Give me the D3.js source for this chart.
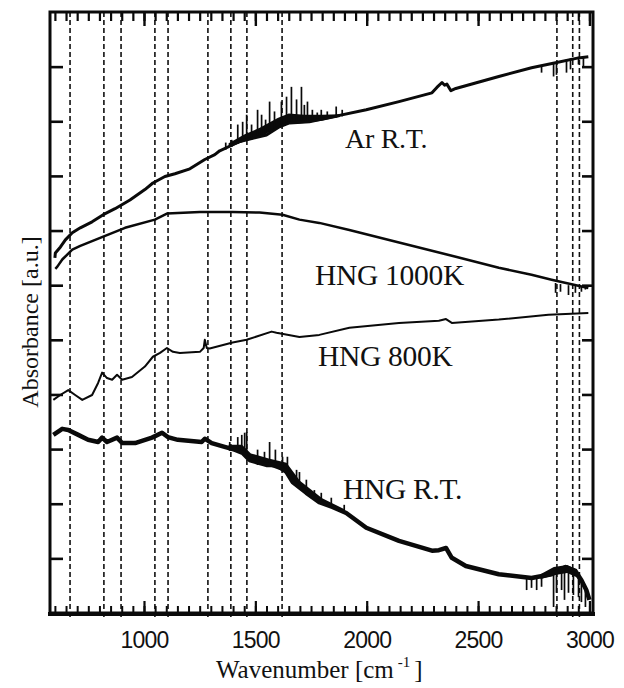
<!DOCTYPE html>
<html>
<head>
<meta charset="utf-8">
<script src="https://cdn.jsdelivr.net/npm/d3@7"></script>
<style>
  html, body { margin: 0; padding: 0; background: #fff; }
</style>
</head>
<body>
<script>
// wavenumber [cm-1], absorbance [a.u.]
const arRT = [[600, 6.50], [602, 6.59], [625, 6.70], [647, 6.83], [678, 6.96], [714, 7.05], [767, 7.16], [817, 7.29], [870, 7.40], [937, 7.56], [1004, 7.75], [1040, 7.87], [1094, 7.99], [1139, 8.04], [1206, 8.13], [1273, 8.30], [1318, 8.39], [1340, 8.46], [1430, 8.63], [1550, 8.75], [1608, 8.90], [1653, 8.97], [1743, 8.99], [1846, 9.08], [1998, 9.21], [2145, 9.36], [2293, 9.52], [2315, 9.62], [2338, 9.71], [2350, 9.66], [2360, 9.68], [2378, 9.56], [2400, 9.60], [2593, 9.82], [2740, 9.98], [2848, 10.07], [2951, 10.16], [2995, 10.18]];
const hng1000 = [[602, 6.30], [611, 6.34], [633, 6.47], [678, 6.65], [714, 6.72], [817, 6.89], [915, 7.05], [1049, 7.20], [1103, 7.31], [1152, 7.32], [1251, 7.34], [1398, 7.34], [1519, 7.33], [1622, 7.29], [1698, 7.20], [1787, 7.14], [1922, 7.01], [2145, 6.78], [2400, 6.52], [2593, 6.32], [2740, 6.19], [2830, 6.10], [2995, 5.95]];
const hng800 = [[593, 3.90], [624, 3.99], [660, 4.08], [691, 3.99], [723, 3.90], [767, 3.99], [794, 4.21], [812, 4.40], [834, 4.30], [857, 4.27], [879, 4.36], [902, 4.27], [946, 4.32], [1004, 4.51], [1040, 4.69], [1072, 4.76], [1103, 4.85], [1130, 4.78], [1161, 4.76], [1251, 4.78], [1268, 4.85], [1273, 5.00], [1282, 4.85], [1295, 4.84], [1398, 4.95], [1461, 5.00], [1573, 5.15], [1595, 5.13], [1698, 5.05], [1787, 5.09], [1922, 5.22], [2145, 5.31], [2324, 5.35], [2356, 5.38], [2382, 5.31], [2593, 5.37], [2816, 5.46], [2995, 5.49]];
const hngRT = [[593, 3.26], [633, 3.37], [660, 3.35], [705, 3.26], [749, 3.17], [794, 3.13], [812, 3.21], [834, 3.13], [879, 3.21], [902, 3.11], [960, 3.11], [1036, 3.21], [1081, 3.30], [1107, 3.22], [1152, 3.17], [1259, 3.13], [1273, 3.19], [1304, 3.11], [1362, 3.04], [1407, 2.99], [1443, 2.93], [1474, 2.80], [1550, 2.71], [1595, 2.71], [1640, 2.58], [1667, 2.40], [1729, 2.20], [1787, 2.03], [1846, 1.94], [1908, 1.83], [1998, 1.56], [2145, 1.32], [2293, 1.14], [2324, 1.15], [2356, 1.19], [2382, 1.01], [2445, 0.86], [2593, 0.71], [2740, 0.64], [2830, 0.71], [2893, 0.84], [2937, 0.77], [2964, 0.60], [2986, 0.42], [3000, 0.24]];

// noisy stretches: [wavenumber, low, high]
const arBand = [[1380, 8.52, 8.60], [1450, 8.63, 8.76], [1520, 8.71, 8.88], [1600, 8.88, 9.06], [1650, 8.95, 9.14], [1720, 8.97, 9.12], [1800, 9.01, 9.12], [1880, 9.08, 9.13]];
const rtBand = [[1380, 2.98, 3.08], [1440, 2.93, 3.08], [1480, 2.77, 2.92], [1560, 2.69, 2.83], [1640, 2.57, 2.75], [1700, 2.29, 2.42], [1800, 2.01, 2.10], [1900, 1.83, 1.90]];
const rtBandEnd = [[2780, 0.62, 0.71], [2840, 0.69, 0.84], [2900, 0.73, 0.88], [2940, 0.66, 0.80], [2970, 0.51, 0.60], [2995, 0.30, 0.38]];

// spikes: [wavenumber, from, to]
const arSpikes = [[1367, 8.48, 8.61], [1394, 8.53, 8.66], [1421, 8.59, 8.94], [1443, 8.63, 8.99], [1461, 8.64, 9.12], [1483, 8.66, 8.94], [1510, 8.70, 9.21], [1528, 8.72, 9.12], [1546, 8.74, 9.03], [1564, 8.77, 9.36], [1586, 8.83, 9.18], [1617, 8.92, 9.36], [1640, 8.96, 9.45], [1662, 8.97, 9.63], [1685, 8.97, 9.40], [1707, 8.97, 9.63], [1720, 8.97, 9.30], [1734, 8.97, 9.36], [1756, 8.99, 9.21], [1778, 9.01, 9.16], [1796, 9.03, 9.21], [1823, 9.05, 9.18], [1863, 9.07, 9.27], [1890, 9.09, 9.21],
  [2785, 10.02, 9.89], [2839, 10.07, 9.82], [2852, 10.08, 9.85], [2897, 10.13, 9.89], [2915, 10.15, 9.95], [2951, 10.18, 10.04], [2973, 10.19, 10.00]];
const hng1000Spikes = [[2848, 6.04, 5.86], [2870, 6.02, 5.88], [2906, 6.00, 5.82], [2937, 5.99, 5.86], [2964, 5.97, 5.88], [2982, 5.97, 5.92]];
const rtSpikes = [[1385, 2.97, 3.13], [1421, 2.95, 3.22], [1439, 2.93, 3.26], [1452, 2.89, 3.30], [1461, 2.84, 3.31], [1510, 2.71, 2.99], [1541, 2.69, 2.95], [1564, 2.69, 3.13], [1590, 2.69, 2.99], [1622, 2.64, 2.86], [1644, 2.58, 2.86], [1685, 2.34, 2.62], [1698, 2.29, 2.58], [1729, 2.20, 2.44], [1765, 2.11, 2.25], [1796, 2.01, 2.20], [1841, 1.96, 2.11], [1899, 1.85, 1.98],
  [2718, 0.64, 0.42], [2740, 0.64, 0.46], [2763, 0.64, 0.42], [2785, 0.66, 0.48], [2839, 0.75, 0.11], [2852, 0.79, 0.37], [2875, 0.82, 0.42], [2888, 0.84, 0.24], [2906, 0.82, 0.37], [2928, 0.79, 0.33], [2951, 0.70, 0.29], [2964, 0.60, 0.20], [2982, 0.48, 0.11]];

const dashedLines = [668, 820, 897, 1049, 1108, 1287, 1390, 1462, 1620, 2854, 2925, 2955];
const majorTicks = [1000, 1500, 2000, 2500, 3000];
const minorTicks = d3.range(600, 3001, 50);
const yTicks = d3.range(1, 11);

const curves = [
  { name: 'Ar R.T.', data: arRT, width: 3 },
  { name: 'HNG 1000K', data: hng1000, width: 2.5 },
  { name: 'HNG 800K', data: hng800, width: 2 },
  { name: 'HNG R.T.', data: hngRT, width: 4.5 },
];

const WIDTH = 624, HEIGHT = 688;
const serif = '"Liberation Serif", "Times New Roman", serif';
const sans = '"Liberation Sans", Arial, sans-serif';

const x = d3.scaleLinear().domain([578, 3016]).range([50, 593]);
const y = d3.scaleLinear().domain([0, 11]).range([613, 12]);

const svg = d3.select('body').append('svg')
  .attr('width', WIDTH)
  .attr('height', HEIGHT);

// dashed reference lines
svg.append('g')
  .selectAll('line')
  .data(dashedLines)
  .join('line')
  .attr('x1', (d) => x(d)).attr('x2', (d) => x(d))
  .attr('y1', 12).attr('y2', 617)
  .attr('stroke', '#111')
  .attr('stroke-width', 1.6)
  .attr('stroke-dasharray', '5,3');

const line = d3.line().x((d) => x(d[0])).y((d) => y(d[1]));
const band = d3.area().x((d) => x(d[0])).y0((d) => y(d[1])).y1((d) => y(d[2]));

[arBand, rtBand, rtBandEnd].forEach((b) => {
  svg.append('path').attr('d', band(b)).attr('fill', '#0a0a0a');
});

svg.append('g')
  .selectAll('line')
  .data([...arSpikes, ...hng1000Spikes, ...rtSpikes])
  .join('line')
  .attr('x1', (d) => x(d[0])).attr('x2', (d) => x(d[0]))
  .attr('y1', (d) => y(d[1])).attr('y2', (d) => y(d[2]))
  .attr('stroke', '#0a0a0a')
  .attr('stroke-width', 1.7);

svg.append('g')
  .selectAll('path')
  .data(curves)
  .join('path')
  .attr('d', (d) => line(d.data))
  .attr('fill', 'none')
  .attr('stroke', '#0a0a0a')
  .attr('stroke-width', (d) => d.width)
  .attr('stroke-linejoin', 'round');

// axes, ticks pointing inward
const tickStyle = (g, w) => {
  g.select('.domain').remove();
  g.selectAll('.tick line').attr('stroke', '#0a0a0a').attr('stroke-width', w);
};

svg.append('g').attr('transform', 'translate(0,613)')
  .call(d3.axisBottom(x).tickValues(minorTicks).tickSize(-7).tickFormat(''))
  .call((g) => tickStyle(g, 2));

svg.append('g').attr('transform', 'translate(0,613)')
  .call(d3.axisBottom(x).tickValues(majorTicks).tickSize(-12).tickPadding(19).tickFormat(d3.format('d')))
  .call((g) => tickStyle(g, 2.2))
  .attr('font-family', sans)
  .attr('font-size', 23)
  .selectAll('text').attr('fill', '#111').attr('letter-spacing', -0.8);

svg.append('g').attr('transform', 'translate(0,12)')
  .call(d3.axisTop(x).tickValues(minorTicks).tickSize(-9).tickFormat(''))
  .call((g) => tickStyle(g, 2.2));

svg.append('g').attr('transform', 'translate(0,12)')
  .call(d3.axisTop(x).tickValues(majorTicks).tickSize(-14).tickFormat(''))
  .call((g) => tickStyle(g, 2.4));

svg.append('g').attr('transform', 'translate(50,0)')
  .call(d3.axisLeft(y).tickValues(yTicks).tickSize(-13).tickFormat(''))
  .call((g) => tickStyle(g, 2.6));

svg.append('g').attr('transform', 'translate(593,0)')
  .call(d3.axisRight(y).tickValues(yTicks).tickSize(-11).tickFormat(''))
  .call((g) => tickStyle(g, 2.6));

// frame
svg.append('rect')
  .attr('x', 50).attr('y', 12)
  .attr('width', 543).attr('height', 601)
  .attr('fill', 'none')
  .attr('stroke', '#0a0a0a')
  .attr('stroke-width', 3);
svg.append('line')
  .attr('x1', 48).attr('x2', 595)
  .attr('y1', 614).attr('y2', 614)
  .attr('stroke', '#0a0a0a')
  .attr('stroke-width', 4);

// curve labels
const labelPos = [[345, 148], [315, 285], [318, 366], [343, 499]];
svg.append('g')
  .selectAll('text')
  .data(curves)
  .join('text')
  .attr('x', (d, i) => labelPos[i][0])
  .attr('y', (d, i) => labelPos[i][1])
  .attr('font-family', serif)
  .attr('font-size', (d, i) => (i === 0 ? 28 : 29.5))
  .attr('letter-spacing', -0.3)
  .attr('fill', '#111')
  .text((d) => d.name);

// axis titles
svg.append('text')
  .attr('transform', 'translate(38,322) rotate(-90)')
  .attr('text-anchor', 'middle')
  .attr('font-family', serif)
  .attr('font-size', 24)
  .attr('fill', '#111')
  .text('Absorbance [a.u.]');

const xl = svg.append('text')
  .attr('x', 216).attr('y', 678)
  .attr('font-family', serif)
  .attr('font-size', 25)
  .attr('fill', '#111');
xl.append('tspan').text('Wavenumber [cm');
xl.append('tspan').attr('dx', 4).attr('dy', -11).attr('font-size', 15).text('-1');
xl.append('tspan').attr('dx', 4).attr('dy', 11).text(']');
</script>
</body>
</html>
